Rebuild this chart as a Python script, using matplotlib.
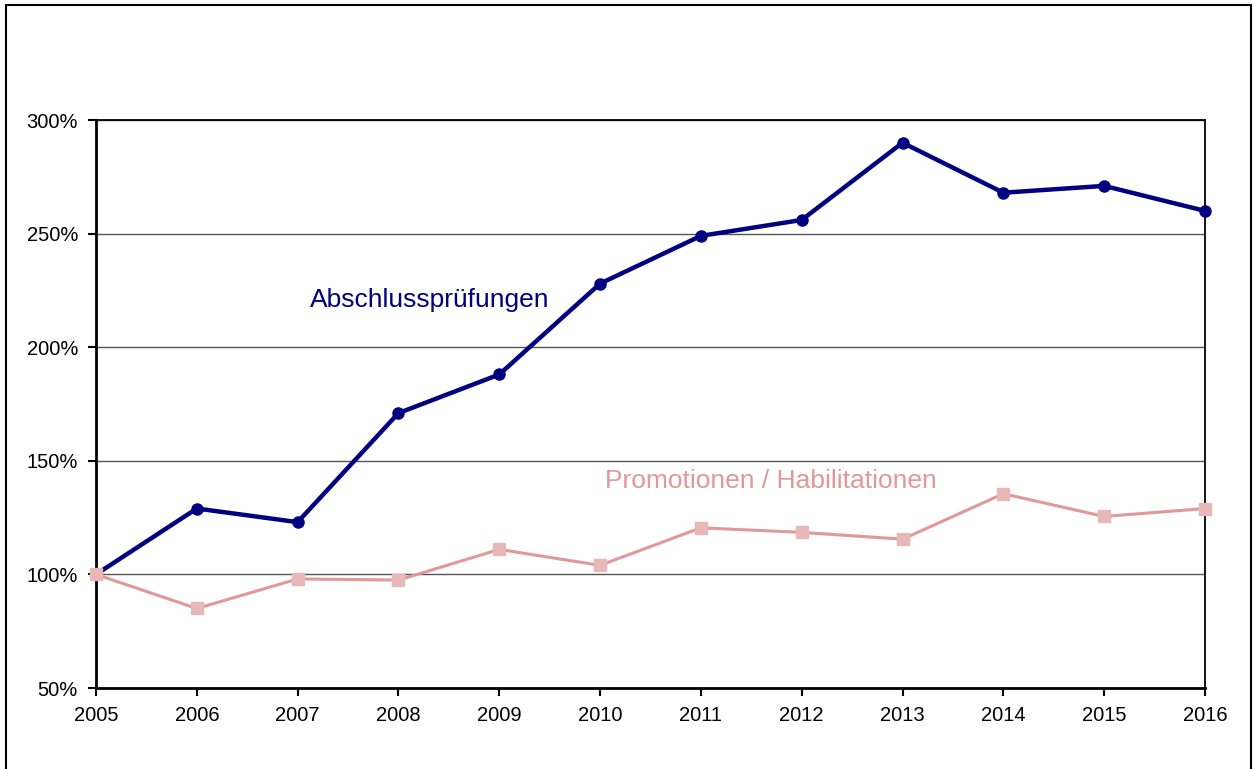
import matplotlib
matplotlib.use("Agg")
import matplotlib.pyplot as plt
from matplotlib.patches import Rectangle
from matplotlib.ticker import FuncFormatter

plt.rcParams['font.family'] = ['Liberation Sans', 'DejaVu Sans']

# Daten (Index 2005 = 100 %)
jahre = [2005, 2006, 2007, 2008, 2009, 2010, 2011, 2012, 2013, 2014, 2015, 2016]
abschluss = [100, 129, 123, 171, 188, 228, 249, 256, 290, 268, 271, 260]
promotionen = [100, 85, 98, 97.5, 111, 104, 120.5, 118.5, 115.5, 135.5, 125.5, 129]
y_ticks = [50, 100, 150, 200, 250, 300]

fig = plt.figure(figsize=(12.54, 7.69), dpi=100)
ax = fig.add_axes([96/1254, 81/769, 1109/1254, 568/769])

# Rahmen um die Grafik
fig.patches.append(Rectangle((6/1254, -0.1), 1245/1254, 1.1 - 5/769, transform=fig.transFigure,
                             fill=False, edgecolor='black', linewidth=1.5))

ax.plot(jahre, abschluss, color='#000080', linewidth=3.2, marker='o', markersize=8,
        zorder=3, clip_on=False)
ax.plot(jahre, promotionen, color='#E09898', linewidth=2.2, marker='s', markersize=9,
        markerfacecolor='#E8B8B8', markeredgecolor='#E8B8B8', zorder=4, clip_on=False)

ax.set_xlim(2005, 2016)
ax.set_ylim(50, 300)
ax.set_xticks(jahre)
ax.set_yticks(y_ticks)
ax.yaxis.set_major_formatter(FuncFormatter(lambda v, p: f"{v:.0f}%"))
ax.grid(axis='y', color='#555555', linewidth=1.0)
ax.set_axisbelow(True)

for s in ['left', 'bottom']:
    ax.spines[s].set_linewidth(2)
for s in ['top', 'right']:
    ax.spines[s].set_linewidth(1.3)
ax.tick_params(direction='out', length=6, width=1.5, labelsize=14.5)
ax.tick_params(axis='x', pad=7)
ax.tick_params(axis='y', pad=7)

ax.text(2008.31, 220.8, 'Abschlussprüfungen', color='#000080', fontsize=19,
        ha='center', va='center')
ax.text(2011.69, 141.1, 'Promotionen / Habilitationen', color='#E09898', fontsize=19,
        ha='center', va='center')

fig.savefig('out.png', dpi=100)
